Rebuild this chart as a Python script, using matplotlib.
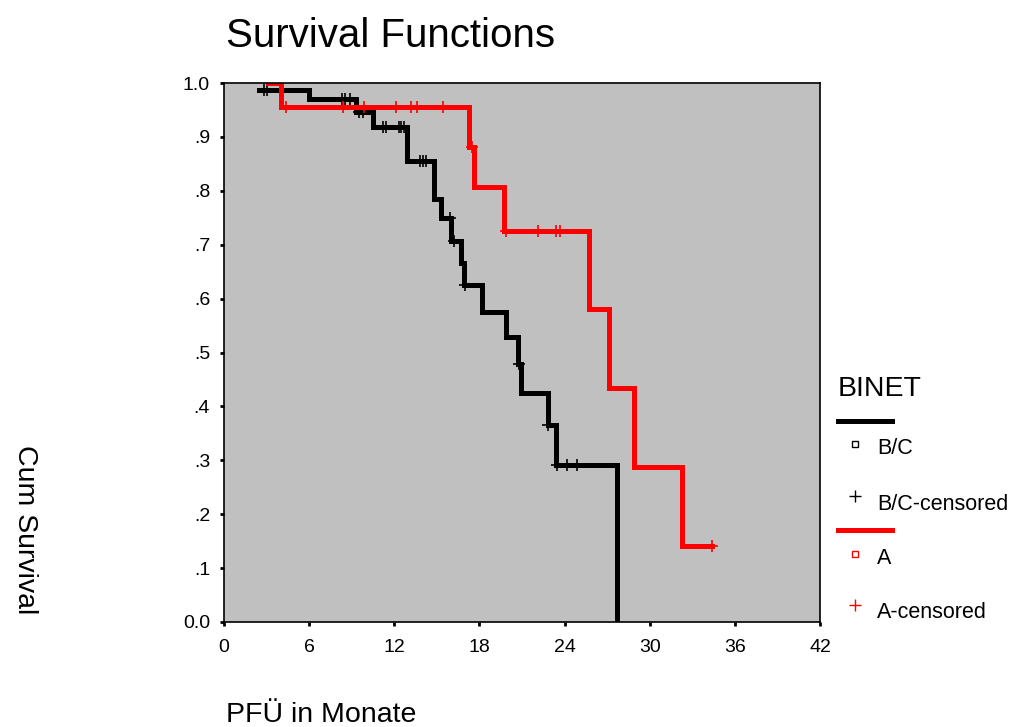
import numpy as np
import matplotlib.pyplot as plt
from matplotlib.lines import Line2D

plt.rcParams['font.family'] = ['Liberation Sans', 'DejaVu Sans']

# Kaplan-Meier Schätzungen
# Gruppe B/C
bc_zeit = [2.5, 6.0, 9.3, 10.5, 12.9, 14.8, 15.3, 16.0, 16.7, 16.9, 18.2, 19.9, 20.7, 20.9, 22.8, 23.4, 27.7]
bc_surv = [0.987, 0.970, 0.946, 0.918, 0.856, 0.785, 0.750, 0.707, 0.666, 0.625, 0.575, 0.529, 0.479, 0.425, 0.365, 0.291, 0.0]
bc_zens = [2.8, 3.0, 8.3, 8.5, 8.9, 9.5, 9.8, 11.2, 11.4, 12.3, 12.5, 12.7,
           13.8, 14.0, 14.2, 15.9, 16.2, 17.0, 20.8, 22.8, 23.5, 24.2, 24.9]

# Gruppe A
a_zeit = [3.1, 4.0, 17.3, 17.6, 19.7, 25.7, 27.1, 28.9, 32.3]
a_surv = [1.0, 0.955, 0.881, 0.807, 0.725, 0.580, 0.434, 0.288, 0.141]
a_zens = [4.4, 8.4, 9.9, 12.1, 13.2, 13.6, 15.4, 17.5, 19.9, 22.1, 23.4, 23.7, 34.4]
a_ende = 34.4

y_ticks = [0.0, 0.1, 0.2, 0.3, 0.4, 0.5, 0.6, 0.7, 0.8, 0.9, 1.0]
y_labels = ['0.0', '.1', '.2', '.3', '.4', '.5', '.6', '.7', '.8', '.9', '1.0']
x_ticks = [0, 6, 12, 18, 24, 30, 36, 42]


def stufe(zeiten, werte, t):
    idx = np.searchsorted(zeiten, t, side='right') - 1
    return np.array(werte)[np.clip(idx, 0, len(werte) - 1)]


fig = plt.figure(figsize=(10.1, 7.27), dpi=100)
ax = fig.add_axes([224 / 1010, 1 - 622 / 727, 596 / 1010, 539 / 727])
ax.set_facecolor('#c0c0c0')

# B/C Kurve
ax.step(bc_zeit, bc_surv, where='post', color='black', lw=3.6, solid_joinstyle='miter')
ax.plot(bc_zens, stufe(bc_zeit, bc_surv, bc_zens), '+', color='black', ms=9, mew=1.2)

# A Kurve
ax.step(a_zeit + [a_ende], a_surv + [a_surv[-1]], where='post', color='red', lw=3.6,
        solid_joinstyle='miter')
ax.plot(a_zens, stufe(a_zeit, a_surv, a_zens), '+', color='red', ms=9, mew=1.2)

ax.set_xlim(0, 42)
ax.set_ylim(0, 1.0)
ax.set_xticks(x_ticks)
ax.set_xticklabels([str(v) for v in x_ticks])
ax.set_yticks(y_ticks)
ax.set_yticklabels(y_labels)
ax.tick_params(direction='out', length=3, width=2, labelsize=14)
ax.tick_params(axis='x', pad=9)
ax.tick_params(axis='y', pad=7)
for s in ax.spines.values():
    s.set_linewidth(1.2)

fig.text(226 / 1010, 1 - 47 / 727, 'Survival Functions', fontsize=29, va='baseline', ha='left')
fig.text(25 / 1010, 1 - 530 / 727, 'Cum Survival', fontsize=20.5, rotation=270,
         va='center', ha='center')
fig.text(226 / 1010, 1 - 715 / 727, 'PFÜ in Monate', fontsize=20.5, va='center', ha='left')

# Legende
fig.text(838 / 1010, 1 - 389 / 727, 'BINET', fontsize=20.5, va='center', ha='left')
eintraege = [
    ('black', 421, 449, 'B/C', 504, 'B/C-censored'),
    ('red', 530, 559, 'A', 613, 'A-censored'),
]
for farbe, y_lin, y_q, txt_q, y_p, txt_p in eintraege:
    fig.add_artist(Line2D([838 / 1010, 892 / 1010], [1 - y_lin / 727] * 2,
                          color=farbe, lw=3.6, transform=fig.transFigure))
    fig.add_artist(Line2D([855 / 1010], [1 - (y_q - 5) / 727], marker='s', ms=4.5, mfc='none',
                          mec=farbe, mew=1.0, transform=fig.transFigure))
    fig.text(877 / 1010, 1 - y_q / 727, txt_q, fontsize=15.5, va='center', ha='left')
    fig.add_artist(Line2D([855 / 1010], [1 - (y_p - 8) / 727], marker='+', ms=8,
                          mec=farbe, mew=1.0, transform=fig.transFigure))
    fig.text(877 / 1010, 1 - y_p / 727, txt_p, fontsize=15.5, va='center', ha='left')

fig.savefig('out.png', dpi=100)
